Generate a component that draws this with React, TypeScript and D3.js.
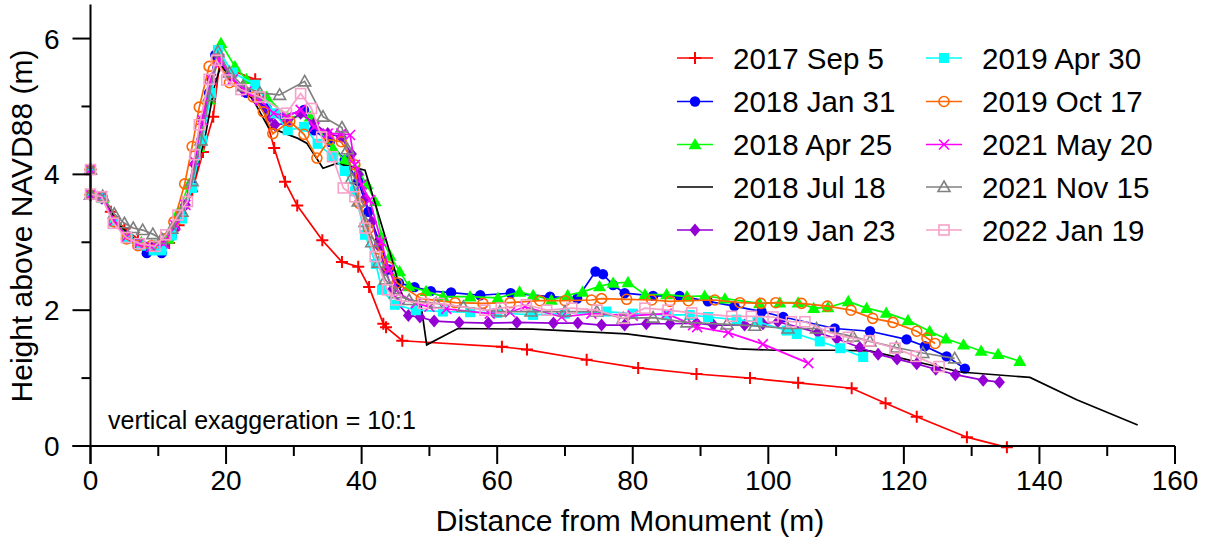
import React from 'react';
import * as d3 from 'd3';

const W = 1207;
const H = 544;

const seriesLabels = ['2017 Sep 5', '2018 Jan 31', '2018 Apr 25', '2018 Jul 18', '2019 Jan 23', '2019 Apr 30', '2019 Oct 17', '2021 May 20', '2021 Nov 15', '2022 Jan 19'];
const seriesColors = ['#ff0000', '#0000ff', '#00ff00', '#000000', '#9400d3', '#00ffff', '#ff6600', '#ff00ff', '#808080', '#f7a1c9'];
const seriesMarkers = ['plus', 'circle', 'triangle', 'none', 'diamond', 'square', 'ocircle', 'cross', 'otriangle', 'osquare'];

const xMajorTicks = [0, 20, 40, 60, 80, 100, 120, 140, 160];
const xMinorTicks = [10, 30, 50, 70, 90, 110, 130, 150];
const yMajorTicks = [0, 2, 4, 6];
const yMinorTicks = [1, 3, 5];

type P = [number, number];

const sep2017: P[] = [[0,4.07],[0,3.7],[1.6,3.66],[3,3.45],[5,3.2],[7,3.05],[9,2.95],[11.6,2.99],[13,3.25],[15,3.75],[16.6,4.33],[18.1,4.85],[19,5.6],[24.3,5.4],[27.1,4.39],[28.7,3.89],[30.5,3.54],[34.2,3.03],[37.1,2.71],[39.5,2.64],[41.1,2.34],[43.2,1.8],[43.6,1.75],[46.0,1.55],[60.7,1.46],[64.4,1.42],[73.2,1.27],[80.8,1.15],[89.4,1.06],[97.3,1.0],[104.4,0.93],[112.3,0.85],[117.3,0.63],[121.9,0.43],[129.3,0.13],[135.2,-0.02]];
const jan2018: P[] = [[0,4.07],[0,3.7],[1.8,3.66],[3.5,3.3],[5.5,3.05],[7,2.95],[8.3,2.84],[10.5,2.84],[12,3.1],[13.5,3.4],[15,3.85],[16.3,4.5],[17.5,5.2],[18.4,5.76],[20.5,5.45],[23,5.2],[26,4.97],[28.5,4.85],[31.5,4.95],[33,4.65],[35.3,4.48],[37.5,4.21],[39.5,3.9],[41,3.45],[42.6,3.01],[44,2.6],[45.5,2.4],[47.8,2.34],[50.2,2.28],[53.2,2.26],[57.5,2.22],[62.0,2.25],[67.8,2.2],[71.8,2.17],[74.5,2.57],[75.6,2.53],[77.1,2.37],[78.8,2.25],[83.0,2.21],[86.9,2.21],[91.1,2.13],[95.0,2.06],[99.0,1.98],[102.2,1.9],[109.8,1.73],[115,1.69],[120.4,1.57],[123.1,1.47],[126.3,1.32],[129.0,1.14]];
const apr2018: P[] = [[0,4.07],[0,3.7],[1.8,3.65],[3.8,3.3],[5.5,3.1],[7.5,3.0],[9.5,2.95],[11.5,3.05],[13,3.45],[14.5,3.85],[16,4.4],[17.5,5.1],[19.25,5.93],[21.3,5.59],[23,5.4],[26,5.14],[29,4.85],[32.4,4.85],[35.8,4.38],[37.5,4.21],[39.5,4.05],[40.8,3.85],[42.0,3.6],[42.9,3.08],[44.2,2.8],[45.6,2.57],[47,2.35],[49.5,2.28],[52,2.2],[56,2.2],[60.1,2.18],[63.3,2.27],[65.3,2.22],[68,2.15],[70.4,2.22],[72.6,2.27],[75.1,2.35],[77.1,2.4],[79.3,2.41],[81.8,2.23],[85,2.23],[88,2.2],[90.6,2.21],[93.6,2.17],[98.7,2.1],[101.7,2.11],[104.4,2.11],[106.7,2.03],[108.8,2.04],[111.8,2.13],[114.5,2.03],[117.4,1.96],[120.6,1.85],[123.8,1.69],[126.2,1.58],[128.8,1.49],[131.4,1.4],[133.9,1.35],[137.1,1.25]];
const jul2018: P[] = [[0,4.07],[0,3.7],[2,3.62],[4,3.28],[6,3.08],[8,2.98],[10,2.93],[12,3.1],[14,3.5],[15.5,4.0],[17,4.6],[18.3,5.3],[19.2,5.6],[21,5.4],[24,5.1],[26.2,4.7],[30.6,4.53],[31.9,4.46],[34.3,4.09],[36.3,4.16],[38.5,4.11],[40.5,4.06],[42.0,3.57],[44.2,2.84],[45.7,2.3],[46.1,2.2],[48.8,2.05],[49.6,1.49],[54.2,1.73],[65.3,1.72],[79.1,1.65],[88.4,1.53],[95.5,1.43],[101,1.41],[110.1,1.41],[115,1.4],[128.3,1.09],[138.6,1.01],[145.5,0.68],[154.5,0.31]];
const jan2019: P[] = [[0,4.07],[0,3.7],[1.7,3.65],[3.5,3.3],[5.3,3.08],[7,2.98],[9,2.92],[10.8,2.95],[12.5,3.2],[14,3.55],[15.3,4.15],[16.5,4.8],[17.8,5.4],[19,5.72],[20.5,5.45],[22.5,5.25],[24.5,5.1],[26.5,4.85],[27.2,4.73],[29,4.75],[31,4.9],[33,4.75],[35,4.6],[37,4.55],[38.5,4.3],[39.5,4.0],[40.5,3.65],[41.5,3.3],[42.5,2.95],[43.5,2.6],[44.5,2.3],[45.3,2.1],[46.9,1.92],[48.6,1.9],[50.7,1.84],[54.4,1.82],[58.7,1.81],[62.9,1.82],[68.3,1.81],[71.9,1.81],[75.4,1.78],[78.8,1.78],[82,1.8],[85.5,1.8],[89.4,1.81],[91.9,1.78],[96.5,1.78],[99.2,1.8],[101.4,1.83],[107.3,1.67],[110.1,1.58],[113.5,1.45],[116.2,1.35],[119,1.28],[121.9,1.21],[124.7,1.13],[127.6,1.05],[131.7,0.97],[134.1,0.94]];
const apr2019: P[] = [[0,4.07],[0,3.7],[1.7,3.65],[3.5,3.3],[5.5,3.05],[7.5,2.95],[9.3,2.88],[10.5,2.88],[12,3.1],[13.5,3.35],[15,3.8],[16.5,4.5],[17.8,5.2],[18.8,5.83],[21,5.5],[24.3,5.32],[27.2,4.9],[29.1,4.65],[31.5,4.7],[33.5,4.45],[35.8,4.26],[37.5,4.05],[39,3.75],[40.5,3.11],[42.1,2.68],[43,2.3],[44.9,2.08],[48,2.0],[52,1.98],[56,1.97],[60,1.96],[65.3,1.93],[70,1.95],[76.1,1.98],[80,1.95],[85,1.93],[88.4,1.93],[91.1,1.9],[95.3,1.86],[98.4,1.83],[102.7,1.7],[104.2,1.65],[107.6,1.54],[110.6,1.44],[114,1.31]];
const oct2019: P[] = [[0,4.07],[0,3.7],[1.7,3.67],[3.5,3.3],[5.3,3.05],[7,2.95],[9,2.95],[10.8,3.05],[12.3,3.3],[13.9,3.86],[15,4.41],[16.05,4.99],[17.5,5.59],[18.6,5.7],[20.5,5.35],[24,5.14],[25.5,4.92],[26.9,4.6],[29.4,4.78],[31.5,4.59],[33.4,4.24],[35.2,4.51],[37,4.48],[39,4.14],[39.7,3.57],[41,3.2],[42.5,2.9],[43.9,2.64],[45.2,2.4],[48.8,2.17],[53.8,2.11],[57.9,2.1],[61.9,2.11],[66.3,2.14],[70,2.14],[73.9,2.15],[75.4,2.17],[79.1,2.16],[82.8,2.15],[85.5,2.13],[88.2,2.14],[92.1,2.15],[95.8,2.11],[98.9,2.1],[101.1,2.11],[104.9,2.1],[108.7,2.06],[112.2,2.0],[115.4,1.88],[118.4,1.82],[121.9,1.69],[123.4,1.59],[124.6,1.51]];
const may2021: P[] = [[0,4.07],[0,3.7],[1.7,3.68],[3.5,3.32],[5.3,3.08],[7,2.98],[9,2.93],[10.8,2.98],[12.5,3.25],[14,3.55],[15.3,4.2],[16.5,4.8],[17.8,5.4],[19,5.7],[21,5.4],[23,5.22],[25,5.1],[27,4.9],[29,4.85],[31,4.95],[33,4.7],[35,4.6],[37,4.6],[38.3,4.58],[39,4.14],[40,3.85],[41.2,3.62],[42.9,3.01],[44,2.6],[45.5,2.25],[48,2.1],[50,2.05],[52.5,2.02],[58.9,1.95],[61.9,1.97],[64.1,2.05],[69.5,1.9],[73.9,1.95],[80,1.92],[85,1.95],[88.9,1.78],[89.5,1.75],[94.1,1.67],[99.2,1.5],[105.9,1.22]];
const nov2021: P[] = [[0,4.07],[0,3.7],[1.8,3.68],[3.5,3.42],[5,3.28],[6.3,3.21],[7.7,3.18],[9.2,3.12],[10.5,3.05],[12,3.2],[13.5,3.45],[15,3.9],[16.3,4.5],[17.5,5.15],[18.8,5.81],[20.5,5.5],[22.5,5.3],[25,5.2],[27.9,5.17],[31.6,5.37],[34.3,4.85],[37.1,4.69],[37.9,4.37],[38.5,3.94],[39.5,3.6],[40.5,3.3],[41.5,3.0],[42.5,2.7],[43.5,2.45],[45,2.25],[47,2.15],[51,2.1],[55,2.05],[60.4,1.98],[65,1.98],[70,1.98],[74.7,1.98],[78.6,1.88],[83,1.89],[88,1.82],[93.9,1.79],[98,1.77],[102.9,1.73],[107.1,1.73],[112.5,1.61],[115,1.54],[118.9,1.45],[122.8,1.37],[127.5,1.29]];
const jan2022: P[] = [[0,4.07],[0,3.71],[1.65,3.67],[3.36,3.28],[5.3,3.07],[7.2,2.98],[9.5,2.94],[11.1,3.11],[12.9,3.4],[14.3,3.6],[15.4,4.29],[16.05,4.73],[17.5,5.4],[18.6,5.68],[20.1,5.39],[22.2,5.25],[25,5.14],[28.9,4.9],[31,5.19],[32.6,4.97],[34.1,4.55],[35.7,4.26],[37.3,3.8],[39,3.67],[40.5,3.21],[42,2.79],[43.8,2.3],[45.1,2.15],[49.1,2.1],[51.4,2.1],[58.2,2.0],[60.6,2.03],[64.3,2.08],[67.3,2.0],[71,2.03],[74.7,2.0],[78.6,1.88],[81.8,2.03],[85.2,2.0],[88.7,1.96],[94.6,1.91],[97.5,1.91],[100.7,1.9],[103.4,1.83],[105.4,1.83],[109.1,1.67],[111.8,1.6],[114.9,1.55],[118.7,1.44],[121.8,1.32],[125.2,1.17]];

const seriesData: P[][] = [sep2017, jan2018, apr2018, jul2018, jan2019, apr2019, oct2019, may2021, nov2021, jan2022];

const FONT = "'Liberation Sans', Arial, Helvetica, sans-serif";

function Marker({ kind, x, y, color }: { kind: string; x: number; y: number; color: string }) {
  const s = 5;
  switch (kind) {
    case 'plus':
      return <path d={`M${x - 6},${y}H${x + 6}M${x},${y - 6}V${y + 6}`} stroke={color} strokeWidth={2} fill="none" />;
    case 'circle':
      return <circle cx={x} cy={y} r={5.2} fill={color} />;
    case 'triangle':
      return <path d={`M${x},${y - 6.5}L${x + 6.5},${y + 4.8}L${x - 6.5},${y + 4.8}Z`} fill={color} />;
    case 'diamond':
      return <path d={`M${x},${y - 6.5}L${x + 5.5},${y}L${x},${y + 6.5}L${x - 5.5},${y}Z`} fill={color} />;
    case 'square':
      return <rect x={x - s} y={y - s} width={2 * s} height={2 * s} fill={color} />;
    case 'ocircle':
      return <circle cx={x} cy={y} r={5} fill="none" stroke={color} strokeWidth={1.6} />;
    case 'cross':
      return <path d={`M${x - 5},${y - 5}L${x + 5},${y + 5}M${x - 5},${y + 5}L${x + 5},${y - 5}`} stroke={color} strokeWidth={1.6} fill="none" />;
    case 'otriangle':
      return <path d={`M${x},${y - 6}L${x + 6},${y + 4.5}L${x - 6},${y + 4.5}Z`} fill="none" stroke={color} strokeWidth={1.6} />;
    case 'osquare':
      return <rect x={x - 5} y={y - 5} width={10} height={10} fill="none" stroke={color} strokeWidth={1.6} />;
    default:
      return null;
  }
}

export default function App() {
  const x = d3.scaleLinear().domain([0, 160]).range([90.5, 1175]);
  const y = d3.scaleLinear().domain([0, 6.5]).range([446, 4.6]);
  const line = d3.line<P>().x(d => x(d[0])).y(d => y(d[1]));

  const legendRows = [58, 101.5, 144.5, 187, 230];
  const legendCols = [{ lx: 677, tx: 733 }, { lx: 926, tx: 982 }];

  return (
    <svg width={W} height={H} style={{ position: 'absolute', left: 0, top: 0, background: '#fff' }} fontFamily={FONT}>
      <rect width={W} height={H} fill="#fff" />
      {seriesData.map((data, i) => (
        <g key={i}>
          <path d={line(data) || ''} fill="none" stroke={seriesColors[i]} strokeWidth={1.7} />
          {data.map((d, j) => (
            <Marker key={j} kind={seriesMarkers[i]} x={x(d[0])} y={y(d[1])} color={seriesColors[i]} />
          ))}
        </g>
      ))}
      <line x1={x(0)} x2={x(0)} y1={y(6.5)} y2={y(0) + 18} stroke="#000" strokeWidth={2} />
      <line x1={x(0) - 18} x2={x(160)} y1={y(0)} y2={y(0)} stroke="#000" strokeWidth={2} />
      {xMajorTicks.map(t => (
        <g key={'xm' + t}>
          <line x1={x(t)} x2={x(t)} y1={y(0)} y2={y(0) + 18} stroke="#000" strokeWidth={2} />
          <text x={x(t)} y={y(0) + 44} textAnchor="middle" fontSize={28}>{t}</text>
        </g>
      ))}
      {xMinorTicks.map(t => (
        <line key={'xn' + t} x1={x(t)} x2={x(t)} y1={y(0)} y2={y(0) + 10} stroke="#000" strokeWidth={2} />
      ))}
      {yMajorTicks.map(t => (
        <g key={'ym' + t}>
          <line x1={x(0) - 18} x2={x(0)} y1={y(t)} y2={y(t)} stroke="#000" strokeWidth={2} />
          <text x={x(0) - 31} y={y(t) + 10} textAnchor="end" fontSize={28}>{t}</text>
        </g>
      ))}
      {yMinorTicks.map(t => (
        <line key={'yn' + t} x1={x(0) - 9} x2={x(0)} y1={y(t)} y2={y(t)} stroke="#000" strokeWidth={2} />
      ))}
      <text x={630} y={531} textAnchor="middle" fontSize={30}>Distance from Monument (m)</text>
      <text transform="translate(32,226) rotate(-90)" textAnchor="middle" fontSize={30}>Height above NAVD88 (m)</text>
      <text x={108} y={429} fontSize={25}>vertical exaggeration = 10:1</text>
      {seriesLabels.map((lab, i) => {
        const col = legendCols[Math.floor(i / 5)];
        const ry = legendRows[i % 5];
        return (
          <g key={'lg' + i}>
            <line x1={col.lx} x2={col.lx + 36} y1={ry} y2={ry} stroke={seriesColors[i]} strokeWidth={1.7} />
            <Marker kind={seriesMarkers[i]} x={col.lx + 18} y={ry} color={seriesColors[i]} />
            <text x={col.tx} y={ry + 10.5} fontSize={29.5}>{lab}</text>
          </g>
        );
      })}
    </svg>
  );
}
